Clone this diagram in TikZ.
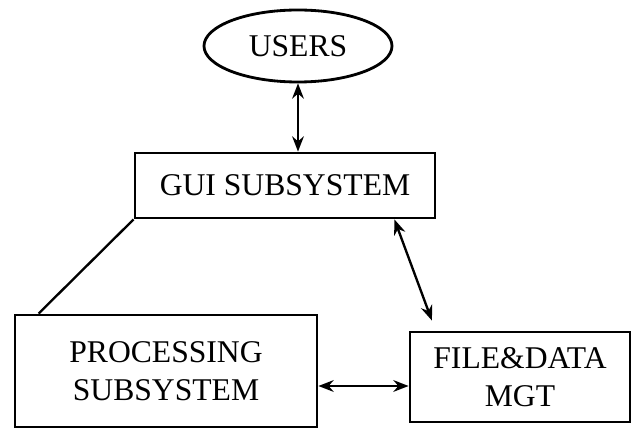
\documentclass[tikz,border=0pt]{standalone}
\usepackage{fontspec}
\setmainfont{Liberation Serif}
\usetikzlibrary{shapes.geometric,arrows.meta}

\begin{document}
\begin{tikzpicture}[x=0.03cm, y=-0.03cm,
    box/.style={draw, line width=2.4pt, align=center, inner sep=0pt},
    link/.style={line width=2pt, {Stealth[length=13pt,width=10pt]}-{Stealth[length=13pt,width=10pt]}},
    every node/.style={font=\fontsize{27}{32}\selectfont}]
    \useasboundingbox (0,0) rectangle (633,430);

    % Users
    \node[box, ellipse, minimum width=5.64cm, minimum height=2.16cm] (users) at (298,46) {USERS};

    % GUI
    \node[box, minimum width=9cm, minimum height=1.95cm] (gui) at (285,185.5) {GUI SUBSYSTEM};

    % Processing
    \node[box, minimum width=9.06cm, minimum height=3.36cm] (proc) at (166,371) {PROCESSING\\SUBSYSTEM};

    % File and data
    \node[box, minimum width=6.6cm, minimum height=2.7cm] (file) at (520,377) {FILE\&DATA\\MGT};

    % Links
    \draw[link] (users.south) -- (users.south |- gui.north);
    \draw[line width=2pt] (gui.south west) -- ([xshift=0.75cm]proc.north west);
    \coordinate (fdtop) at ([xshift=0.7cm, yshift=0.3cm]file.north west);
    \draw[link] ([xshift=-1.26cm]gui.south east) -- (fdtop);
    \coordinate (fdin) at ([yshift=-0.27cm]file.west);
    \draw[link] (proc.east |- fdin) -- (fdin);
\end{tikzpicture}
\end{document}
